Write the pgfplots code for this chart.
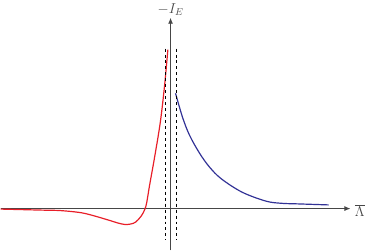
\documentclass[border=0pt]{standalone}
\usepackage{pgfplots}
\pgfplotsset{compat=1.18}
\usetikzlibrary{arrows.meta}
\definecolor{cred}{RGB}{232,30,40}
\definecolor{cblue}{RGB}{50,50,150}
\definecolor{cax}{RGB}{70,70,70}
\begin{document}
\begin{tikzpicture}
\begin{axis}[
  scale only axis, width=352pt, height=234pt,
  xmin=-171, xmax=181, ymin=-42, ymax=192,
  axis lines=middle,
  axis line style={cax, line width=0.9pt, -{Latex[length=6pt,width=5pt]}},
  xtick=\empty, ytick=\empty,
  xlabel={$\overline{\Lambda}$}, ylabel={$-I_E$},
  every axis x label/.style={at={(axis cs:181,0)}, anchor=west, font=\Large, text=cax, yshift=-2pt, xshift=1pt},
  every axis y label/.style={at={(axis cs:0,192)}, anchor=south, font=\Large, text=cax, yshift=-1pt},
  clip=false,
]
\addplot[cred, line width=1.2pt, smooth, tension=0.55] coordinates {
(-171,-0.5) (-131,-1.5) (-111,-2) (-91,-4) (-78,-7) (-61,-12) (-53,-14.5)
(-46,-16) (-40,-15.5) (-35,-13.5) (-29.5,-7.5) (-26,-1) (-24,6)
(-21,24) (-16,52) (-10.3,87) (-6,124) (-2.7,160)
};
\addplot[cblue, line width=1.2pt, smooth, tension=0.55] coordinates {
(5,116) (12,92) (19,74) (29,56) (39,42) (51,30) (72,16.5) (96,7.5) (112,5.3) (129,4.7) (159,3.7)
};
\addplot[black, dashed, line width=0.8pt] coordinates {(-5.3,161) (-5.3,-32)};
\addplot[black, dashed, line width=0.8pt] coordinates {(5.7,161) (5.7,-32)};
\end{axis}
\end{tikzpicture}
\end{document}
